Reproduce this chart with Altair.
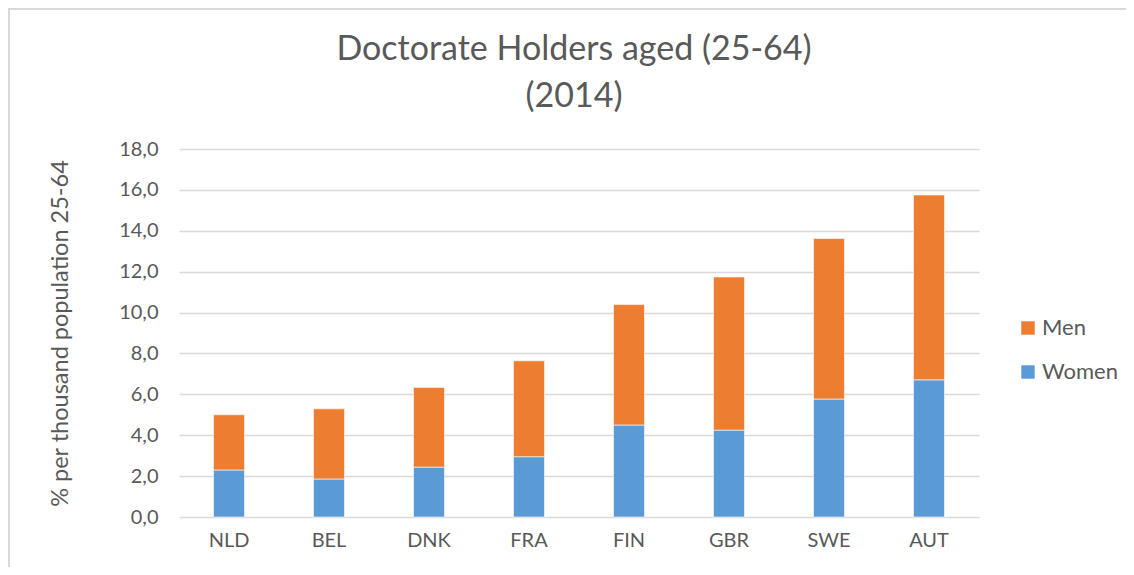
import altair as alt
import pandas as pd

countries = ["NLD", "BEL", "DNK", "FRA", "FIN", "GBR", "SWE", "AUT"]
women = [2.30, 1.86, 2.44, 2.95, 4.50, 4.25, 5.77, 6.71]
men = [2.70, 3.43, 3.90, 4.69, 5.89, 7.49, 7.85, 9.04]
series = ["Men", "Women"]
colors = ["#ED7D31", "#5B9BD5"]
y_ticks = [0, 2, 4, 6, 8, 10, 12, 14, 16, 18]
title_line1 = ["Doctorate Holders aged (25-64)"]
title_line2 = ["(2014)"]

rows = []
for c, w, m in zip(countries, women, men):
    rows.append({"country": c, "sex": "Women", "value": w, "ord": 0})
    rows.append({"country": c, "sex": "Men", "value": m, "ord": 1})
df = pd.DataFrame(rows)

FONT = "Lato"
GREY = "#595959"

bars = alt.Chart(df).mark_bar(stroke="white", strokeWidth=0.6).encode(
    x=alt.X("country:N", sort=countries,
            scale=alt.Scale(paddingInner=0.69, paddingOuter=0.345),
            axis=alt.Axis(title=None, labelAngle=0, labelFontSize=20, labelPadding=13,
                          labelColor=GREY, labelFont=FONT, domain=False, ticks=False,
                          grid=False)),
    y=alt.Y("value:Q", stack="zero",
            scale=alt.Scale(domain=[0, 18], nice=False),
            axis=alt.Axis(values=y_ticks, title="% per thousand population 25-64",
                          labelExpr="replace(format(datum.value, '.1f'), '.', ',')",
                          labelFontSize=20, labelColor=GREY, labelFont=FONT,
                          labelPadding=21, domain=False, ticks=False,
                          gridColor="#D9D9D9", gridWidth=1.5,
                          titleFontSize=23.5, titleFont=FONT, titleColor=GREY,
                          titleFontWeight="normal", titleX=-119, titleY=184,
                          titleAngle=270, titleAlign="center", titleBaseline="middle")),
    color=alt.Color("sex:N", scale=alt.Scale(domain=series, range=colors),
                    legend=alt.Legend(title=None, orient="none", legendX=838, legendY=168,
                                      symbolType="square", symbolSize=180,
                                      symbolStrokeWidth=0, labelFontSize=22,
                                      labelColor=GREY, labelFont=FONT, rowPadding=22,
                                      labelOffset=3)),
    order=alt.Order("ord:Q", sort="ascending"),
)

frame_df = pd.DataFrame({"k": [0]})
left_border = alt.Chart(frame_df).mark_rule(color="#D9D9D9", strokeWidth=2).encode(
    x=alt.value(-170), y=alt.value(-140), y2=alt.value(430)
)
top_border = alt.Chart(frame_df).mark_rule(color="#D9D9D9", strokeWidth=2).encode(
    x=alt.value(-171), x2=alt.value(950), y=alt.value(-140)
)

title1 = alt.Chart(pd.DataFrame({"t": title_line1})).mark_text(
    font=FONT, fontSize=34, color=GREY, align="center", baseline="middle"
).encode(text="t:N", x=alt.value(395), y=alt.value(-99))
title2 = alt.Chart(pd.DataFrame({"t": title_line2})).mark_text(
    font=FONT, fontSize=34, color=GREY, align="center", baseline="middle"
).encode(text="t:N", x=alt.value(395), y=alt.value(-52))

chart = alt.layer(bars, left_border, top_border, title1, title2).properties(
    width=800,
    height=368,
    autosize=alt.AutoSizeParams(type="none"),
    padding={"left": 171, "top": 141, "right": 147, "bottom": 50},
).configure_view(stroke=None)

chart.save("out.html", embed_options={"renderer": "svg", "actions": False})
